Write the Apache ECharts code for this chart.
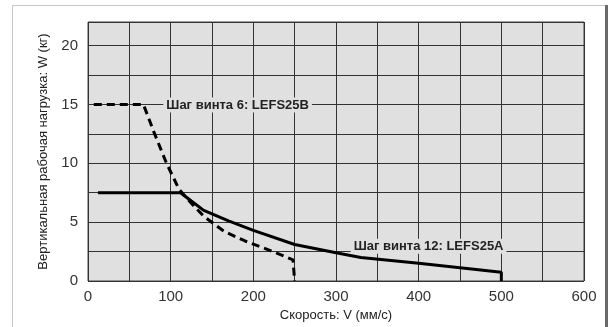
<!DOCTYPE html>
<html><head><meta charset="utf-8">
<script src="https://cdn.jsdelivr.net/npm/echarts@6/dist/echarts.min.js"></script>
<style>html,body{margin:0;padding:0;background:#fff}#c{width:615px;height:327px}</style>
</head><body><div id="c"></div>
<script>
const xTitle = 'Скорость: V (мм/с)';
const yTitle = 'Вертикальная рабочая нагрузка: W (кг)';
const seriesAName = 'Шаг винта 12: LEFS25A';
const seriesBName = 'Шаг винта 6: LEFS25B';
const lefs25A = [[12,7.5],[112,7.5],[125,6.8],[140,6.0],[170,5.1],[200,4.3],[250,3.1],[300,2.4],[330,2.0],[400,1.5],[500,0.75],[500,0]];
const lefs25B = [[7,15],[67,15],[80,12.6],[95,10],[110,7.8],[125,6.6],[140,5.5],[165,4.2],[190,3.4],[220,2.6],[248,1.8],[250,0]];
const labelA = [412, 2.95];
const labelB = [181, 14.95];
const xTicks = [0,100,200,300,400,500,600];
const yTicks = [0,5,10,15,20];

const font = '"Liberation Sans", Arial, sans-serif';
const chart = echarts.init(document.getElementById('c'));
chart.setOption({
  animation:false,
  backgroundColor:'#fff',
  grid:{left:88,right:31,top:22,bottom:46,show:true,backgroundColor:'#e0e0e0',borderColor:'#444',borderWidth:1},
  graphic:[
    {type:'line',shape:{x1:12,y1:5.5,x2:606,y2:5.5},style:{stroke:'#c8c8c8',lineWidth:1}},
    {type:'line',shape:{x1:12.5,y1:5,x2:12.5,y2:327},style:{stroke:'#c8c8c8',lineWidth:1}},
    {type:'rect',shape:{x:605,y:5,width:3,height:322},style:{fill:'#6a6a6a'}}
  ],
  xAxis:{type:'value',min:0,max:600,interval:50,
    name:xTitle,nameLocation:'middle',nameGap:25,nameTextStyle:{fontFamily:font,fontSize:13,color:'#222'},
    axisLine:{show:false},axisTick:{show:false},
    axisLabel:{fontFamily:font,fontSize:15,color:'#333',margin:8,
      formatter:v=>xTicks.includes(v)?String(v):''},
    splitLine:{show:true,lineStyle:{color:'#333',width:1}}},
  yAxis:{type:'value',min:0,max:22,interval:2.5,
    name:yTitle,nameLocation:'middle',nameGap:38,nameTextStyle:{fontFamily:font,fontSize:13,color:'#222'},
    axisLine:{show:false},axisTick:{show:false},
    axisLabel:{fontFamily:font,fontSize:15,color:'#333',margin:10,
      formatter:v=>yTicks.includes(v)?String(v):''},
    splitLine:{show:true,lineStyle:{color:'#333',width:1}}},
  series:[
    {name:seriesAName,type:'line',data:lefs25A,symbol:'none',lineStyle:{color:'#000',width:3},
      markPoint:{symbol:'rect',symbolSize:0,data:[{coord:labelA}],
        label:{show:true,formatter:seriesAName,fontFamily:font,fontSize:13,fontWeight:'bold',color:'#222',
          backgroundColor:'#e0e0e0',padding:[1,3],position:'inside'}}},
    {name:seriesBName,type:'line',data:lefs25B,symbol:'none',lineStyle:{color:'#000',width:3,type:[8,5]},
      markPoint:{symbol:'rect',symbolSize:0,data:[{coord:labelB}],
        label:{show:true,formatter:seriesBName,fontFamily:font,fontSize:13,fontWeight:'bold',color:'#222',
          backgroundColor:'#e0e0e0',padding:[1,3],position:'inside'}}}
  ]
});
</script></body></html>
